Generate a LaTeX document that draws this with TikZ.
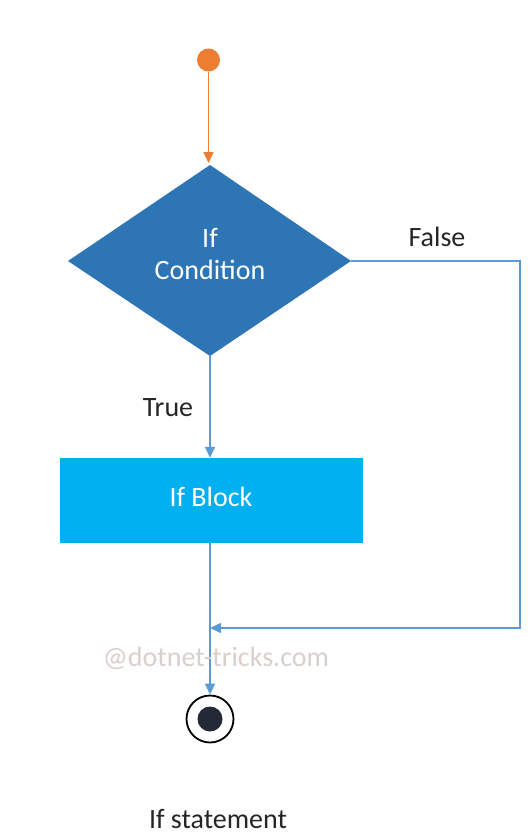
\documentclass[tikz,border=0pt]{standalone}
\usepackage{fontspec}
\setmainfont{Carlito}
\usetikzlibrary{arrows.meta,shapes.geometric}
\definecolor{startorange}{HTML}{ED7D31}
\definecolor{decblue}{HTML}{2E75B6}
\definecolor{blockblue}{HTML}{00B0F0}
\definecolor{flowline}{HTML}{5B9BD5}
\definecolor{enddot}{HTML}{222A35}
\definecolor{labeltext}{HTML}{262626}
\definecolor{markgray}{HTML}{D9CFCB}
\tikzset{
  flow/.style={draw=flowline, line width=1.5pt, -{Triangle[length=11pt,width=10pt]}},
  lbl/.style={font=\fontsize{28}{32}\selectfont, text=labeltext, inner sep=0pt},
  intext/.style={font=\fontsize{28}{32}\selectfont, text=white, align=center, inner sep=0pt},
}
\begin{document}
\begin{tikzpicture}[x=1pt,y=-1pt]
  \useasboundingbox[fill=white] (0,0) rectangle (532,840);

  % start node
  \node[circle, fill=startorange, minimum size=23pt, inner sep=0pt] (start) at (208.5,60) {};

  % decision diamond
  \fill[decblue] (210,165) -- (351,261) -- (210,356) -- (68,261) -- cycle;
  \coordinate (dtop) at (210,165);
  \coordinate (dright) at (351,261);
  \coordinate (dbottom) at (210,356);
  \node[intext] (cond) at (210,254) {If\\Condition};

  % if block
  \node[rectangle, fill=blockblue, minimum width=303pt, minimum height=85pt, inner sep=0pt] (block) at (211.5,500.5) {};
  \node[intext] (blocktext) at (211,497) {If Block};

  % end node
  \node[circle, draw=black, line width=1.8pt, fill=white, minimum size=47pt, inner sep=0pt] (stop) at (210,719) {};
  \node[circle, fill=enddot, minimum size=25pt, inner sep=0pt] (stopdot) at (stop.center) {};

  % connectors
  \draw[draw=startorange, line width=1.5pt, -{Triangle[length=11pt,width=10pt]}] (start.south) -- (208.5,163);
  \draw[flow] (dbottom) -- (block.north -| dbottom);
  \coordinate (fcorner1) at (520,261);
  \coordinate (fcorner2) at (520,628);
  \coordinate (merge) at (210,628);
  \draw[flow] (dright) -- (fcorner1) -- (fcorner2) -- (merge);
  \draw[flow] (block.south -| merge) -- (stop.north);

  % labels
  \node[lbl, anchor=base] (falselbl) at (437,246) {False};
  \node[lbl, anchor=base] (truelbl) at (168,416) {True};
  \node[lbl, anchor=base, text=markgray] (mark) at (216,666) {@dotnet-tricks.com};
  \node[lbl, anchor=base] (caption) at (218,828) {If statement};
\end{tikzpicture}
\end{document}
